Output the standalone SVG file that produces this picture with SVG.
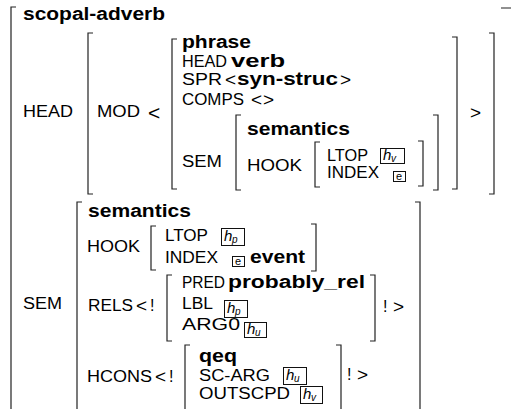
<svg xmlns="http://www.w3.org/2000/svg" width="511" height="409" viewBox="0 0 511 409">
<style>
text{font-family:"Liberation Sans",Arial,Helvetica,sans-serif;fill:#000}
.r{font-size:16px}
.b{font-size:17.5px;font-weight:bold}
.m{font-size:19px}
.ml{font-size:21px}
.x{font-size:16px}
.br{fill:none;stroke:#222;stroke-width:1.2}
.tg{fill:none;stroke:#111;stroke-width:1}
.h{font-size:15px;font-style:italic}
.s{font-size:10px;font-style:italic}
.e{font-size:11px}
</style>
<rect width="511" height="409" fill="#fff"/>

<g id="outer">
<path class="br" d="M16 7H11V409"/>
<path class="br" d="M501 8H512V409"/>
<text class="b" x="23" y="20" textLength="142" lengthAdjust="spacingAndGlyphs">scopal-adverb</text>
<text class="r" x="23" y="117" textLength="50" lengthAdjust="spacingAndGlyphs">HEAD</text>
<text class="r" x="23" y="309" textLength="39" lengthAdjust="spacingAndGlyphs">SEM</text>
</g>

<g id="head-value">
<path class="br" d="M93 33H88V194H93"/>
<path class="br" d="M489 33H494V194H489"/>
<text class="r" x="97" y="117" textLength="43" lengthAdjust="spacingAndGlyphs">MOD</text>
<text class="ml" x="148" y="120">&lt;</text>
<text class="m" x="470" y="119">&gt;</text>
</g>

<g id="phrase">
<path class="br" d="M177 39H172V189H177"/>
<path class="br" d="M452 37H457V189H452"/>
<text class="b" x="182" y="48" textLength="69" lengthAdjust="spacingAndGlyphs">phrase</text>
<text class="r" x="182" y="67" textLength="45" lengthAdjust="spacingAndGlyphs">HEAD</text>
<text class="b" x="231" y="67" textLength="54" lengthAdjust="spacingAndGlyphs">verb</text>
<text class="r" x="182" y="85" textLength="40" lengthAdjust="spacingAndGlyphs">SPR</text>
<text class="m" x="225" y="86">&lt;</text>
<text class="b" x="237" y="85" textLength="101" lengthAdjust="spacingAndGlyphs">syn-struc</text>
<text class="m" x="340" y="86">&gt;</text>
<text class="r" x="182" y="105" textLength="62" lengthAdjust="spacingAndGlyphs">COMPS</text>
<text class="m" x="251" y="106">&lt;</text>
<text class="m" x="263" y="106">&gt;</text>
<text class="r" x="182" y="167" textLength="40" lengthAdjust="spacingAndGlyphs">SEM</text>
</g>

<g id="mod-semantics">
<path class="br" d="M241 115H236V190H241"/>
<path class="br" d="M433 115H438V190H433"/>
<text class="b" x="247" y="135" textLength="103" lengthAdjust="spacingAndGlyphs">semantics</text>
<text class="r" x="247" y="171" textLength="55" lengthAdjust="spacingAndGlyphs">HOOK</text>
</g>

<g id="mod-hook">
<path class="br" d="M320 142H315V187H320"/>
<path class="br" d="M418 141H423V186H418"/>
<text class="r" x="327" y="161" textLength="41" lengthAdjust="spacingAndGlyphs">LTOP</text>
<rect class="tg" x="380.5" y="148.5" width="24" height="15"/>
<text class="h" x="383" y="160">h</text><text class="s" x="391" y="162">v</text>
<text class="r" x="327" y="178" textLength="52" lengthAdjust="spacingAndGlyphs">INDEX</text>
<rect class="tg" x="393.5" y="171.5" width="12" height="10"/>
<text class="e" x="396" y="180">e</text>
</g>

<g id="sem-semantics">
<path class="br" d="M82 202H77V409"/>
<path class="br" d="M415 202H420V409"/>
<text class="b" x="88" y="217" textLength="103" lengthAdjust="spacingAndGlyphs">semantics</text>
<text class="r" x="87" y="252" textLength="53" lengthAdjust="spacingAndGlyphs">HOOK</text>
<text class="r" x="88" y="311" textLength="45" lengthAdjust="spacingAndGlyphs">RELS</text>
<text class="m" x="136" y="312">&lt;</text>
<text class="x" x="150" y="311">!</text>
<text class="x" x="383" y="312">!</text>
<text class="m" x="393" y="313">&gt;</text>
<text class="r" x="87" y="382" textLength="65" lengthAdjust="spacingAndGlyphs">HCONS</text>
<text class="m" x="155" y="383">&lt;</text>
<text class="x" x="169" y="382">!</text>
<text class="x" x="347" y="380">!</text>
<text class="m" x="357" y="381">&gt;</text>
</g>

<g id="sem-hook">
<path class="br" d="M156 226H151V270H156"/>
<path class="br" d="M311 224H316V271H311"/>
<text class="r" x="165" y="241" textLength="43" lengthAdjust="spacingAndGlyphs">LTOP</text>
<rect class="tg" x="221.5" y="228.5" width="23" height="17"/>
<text class="h" x="224" y="241">h</text><text class="s" x="232" y="243">p</text>
<text class="r" x="165" y="263" textLength="53" lengthAdjust="spacingAndGlyphs">INDEX</text>
<rect class="tg" x="232.5" y="256.5" width="12" height="10"/>
<text class="e" x="235" y="265">e</text>
<text class="b" x="250" y="263" textLength="55" lengthAdjust="spacingAndGlyphs">event</text>
</g>

<g id="rels-item">
<path class="br" d="M172 275H167V341H172"/>
<path class="br" d="M370 275H375V341H370"/>
<text class="r" x="182" y="288" textLength="43" lengthAdjust="spacingAndGlyphs">PRED</text>
<text class="b" x="228" y="288" textLength="137" lengthAdjust="spacingAndGlyphs">probably_rel</text>
<text class="r" x="182" y="309" textLength="31" lengthAdjust="spacingAndGlyphs">LBL</text>
<rect class="tg" x="224.5" y="300.5" width="23" height="17"/>
<text class="h" x="227" y="313">h</text><text class="s" x="235" y="315">p</text>
<text class="r" x="182" y="330" textLength="58" lengthAdjust="spacingAndGlyphs">ARG0</text>
<rect class="tg" x="244.5" y="322.5" width="22" height="15"/>
<text class="h" x="247" y="334">h</text><text class="s" x="255" y="336">u</text>
</g>

<g id="hcons-item">
<path class="br" d="M190 345H185V409"/>
<path class="br" d="M336 345H341V409"/>
<text class="b" x="199" y="362" textLength="38" lengthAdjust="spacingAndGlyphs">qeq</text>
<text class="r" x="199" y="381" textLength="71" lengthAdjust="spacingAndGlyphs">SC-ARG</text>
<rect class="tg" x="283.5" y="367.5" width="23" height="17"/>
<text class="h" x="286" y="380">h</text><text class="s" x="294" y="382">u</text>
<text class="r" x="199" y="399" textLength="91" lengthAdjust="spacingAndGlyphs">OUTSCPD</text>
<rect class="tg" x="300.5" y="386.5" width="22" height="17"/>
<text class="h" x="303" y="399">h</text><text class="s" x="311" y="401">v</text>
</g>
</svg>
